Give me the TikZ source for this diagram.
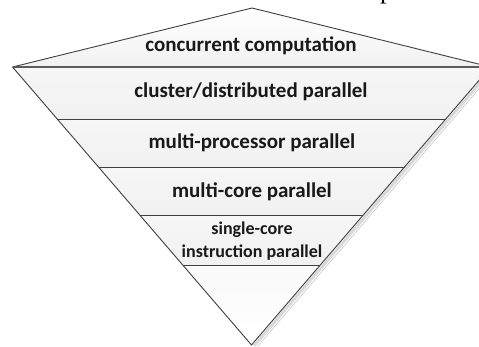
\documentclass[tikz,border=0pt]{standalone}
\usepackage{fontspec}
\setmainfont{Carlito}
\newfontfamily\serifp{Liberation Serif}
\definecolor{edgecol}{HTML}{3F3F3F}
\definecolor{bandfill}{HTML}{F1F1F1}
\definecolor{bandtop}{HTML}{F6F6F6}
\definecolor{shadowcol}{HTML}{D9D9D9}
\tikzset{
  edge/.style={draw=edgecol, line width=0.9pt, line join=miter},
  sep/.style={draw=edgecol, line width=0.9pt},
  thicksep/.style={draw=edgecol!85, line width=2.2pt},
  bigtxt/.style={font=\bfseries\fontsize{21}{23}\selectfont, text=black!90, inner sep=0pt, align=center},
  smalltxt/.style={font=\bfseries\fontsize{18}{23.5}\selectfont, text=black!90, inner sep=0pt, align=center},
}
\begin{document}
\begin{tikzpicture}[x=1pt,y=-1pt]
\useasboundingbox (0,0) rectangle (479,347);
\clip (0,0) rectangle (479,347);
% key points
\coordinate (T) at (252,8);
\coordinate (L0) at (12.5,67);
\coordinate (R0) at (490.5,67);
\coordinate (L1) at (57.2,119);
\coordinate (R1) at (445.8,119);
\coordinate (L2) at (98.5,167);
\coordinate (R2) at (404.5,167);
\coordinate (L3) at (139.7,215);
\coordinate (R3) at (363.3,215);
\coordinate (L4) at (182.7,265);
\coordinate (R4) at (320.3,265);
\coordinate (B) at (251.5,345);
% shadow on the right edge
\draw[shadowcol, line width=3pt] ([shift={(2.6,0.8)}]R0) -- ([shift={(2.6,0.8)}]B);
\draw[black!22, line width=0.6pt] ([shift={(6,1.5)}]R0) -- ([shift={(6,1.5)}]B);
% fills
\shade[top color=white, bottom color=bandfill] (L0) -- (T) -- (R0) -- cycle;
\shade[top color=bandtop, bottom color=bandfill] (L0) -- (R0) -- (R1) -- (L1) -- cycle;
\shade[top color=bandtop, bottom color=bandfill] (L1) -- (R1) -- (R2) -- (L2) -- cycle;
\shade[top color=bandtop, bottom color=bandfill] (L2) -- (R2) -- (R3) -- (L3) -- cycle;
\shade[top color=bandtop, bottom color=bandfill] (L3) -- (R3) -- (R4) -- (L4) -- cycle;
\shade[top color=bandtop!60, bottom color=white] (L4) -- (R4) -- (B) -- cycle;
% outline
\draw[edge] (L0) -- (T) -- (R0);
\draw[edge] (L0) -- (B) -- (R0);
\draw[thicksep] (L0) -- (R0);
\draw[sep] (L1) -- (R1);
\draw[sep] (L2) -- (R2);
\draw[sep] (L3) -- (R3);
\draw[sep] (L4) -- (R4);
% labels
\node[bigtxt] (c0) at (251,46) {concurrent computation};
\node[bigtxt] (c1) at (251,92) {cluster/distributed parallel};
\node[bigtxt] (c2) at (252,143) {multi-processor parallel};
\node[bigtxt] (c3) at (252,192) {multi-core parallel};
\node[smalltxt] (c4) at (252,241) {single-core\\instruction parallel};
% cropped letter from surrounding text
\node[font=\serifp\fontsize{26}{26}\selectfont, inner sep=0pt, anchor=base west] (pp) at (380,-1.2) {p};
\end{tikzpicture}
\end{document}
